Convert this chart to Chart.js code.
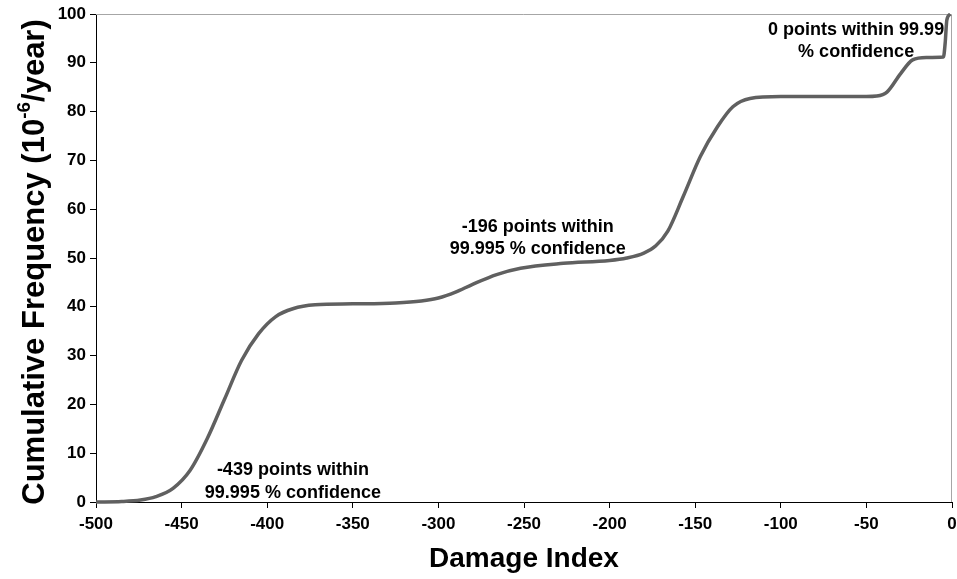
<!DOCTYPE html>
<html>
<head>
<meta charset="utf-8">
<script src="https://cdn.jsdelivr.net/npm/chart.js@4.4.1/dist/chart.umd.min.js"></script>
<style>
  html, body { margin: 0; padding: 0; background: #fff; }
  #wrap { width: 957px; height: 579px; }
</style>
</head>
<body>
<div id="wrap"><canvas id="myChart" width="957" height="579"></canvas></div>
<script>
// damage index vs cumulative frequency
var damageIndex = [-500, -485, -474, -465, -455, -445, -435, -425, -415, -405, -395, -385, -372, -350, -325, -310, -300, -290, -280, -266, -252, -227, -200, -190, -180, -173, -166, -157, -147, -137, -128, -118, -100, -75, -50, -44, -38, -30, -23, -15, -5, -4, -3, -1];
var cumFreq = [0, 0.1, 0.4, 1.1, 2.8, 6.5, 13, 21, 29, 34.5, 38, 39.6, 40.4, 40.6, 40.8, 41.2, 41.8, 43, 44.6, 46.6, 47.9, 48.9, 49.5, 50, 51, 52.5, 55.5, 62.6, 70.8, 76.9, 81, 82.7, 83.1, 83.1, 83.1, 83.2, 84, 87.8, 90.6, 91.1, 91.2, 94, 98.8, 100];

var xTickValues = [-500, -450, -400, -350, -300, -250, -200, -150, -100, -50, 0];
var yTickValues = [0, 10, 20, 30, 40, 50, 60, 70, 80, 90, 100];

// note text, anchored in data units (x centre, y of each line)
var noteLines = [
    ['-439 points within', -385, 6.6],
    ['99.995 % confidence', -385, 1.9],
    ['-196 points within', -242, 56.4],
    ['99.995 % confidence', -242, 51.8],
    ['0 points within 99.99', -56, 96.7],
    ['% confidence', -56, 92.2]
];

var FONT = '"Liberation Sans", Arial, sans-serif';

var points = damageIndex.map(function (x, i) { return { x: x, y: cumFreq[i] }; });

var extras = {
    id: 'extras',
    beforeDatasetsDraw: function (chart) {
        var a = chart.chartArea, c = chart.ctx;
        c.save();
        c.strokeStyle = '#a6a6a6';
        c.lineWidth = 1;
        c.beginPath();
        c.moveTo(a.left, a.top + 0.5);
        c.lineTo(a.right - 0.5, a.top + 0.5);
        c.lineTo(a.right - 0.5, a.bottom);
        c.stroke();
        c.restore();
    },
    afterDraw: function (chart) {
        var c = chart.ctx, xs = chart.scales.x, ys = chart.scales.y, a = chart.chartArea;
        c.save();
        c.fillStyle = '#000';
        c.textAlign = 'center';
        c.textBaseline = 'middle';
        c.font = 'bold 18px ' + FONT;
        noteLines.forEach(function (n) {
            c.fillText(n[0], xs.getPixelForValue(n[1]), ys.getPixelForValue(n[2]));
        });

        // x title
        c.font = 'bold 28px ' + FONT;
        c.fillText('Damage Index', (a.left + a.right) / 2, 559);

        // y title with superscript
        c.translate(35, 262);
        c.rotate(-Math.PI / 2);
        var big = 'bold 31px ' + FONT, small = 'bold 19px ' + FONT;
        var p1 = 'Cumulative Frequency (10', p2 = '-6', p3 = '/year)';
        c.font = big; var w1 = c.measureText(p1).width, w3 = c.measureText(p3).width;
        c.font = small; var w2 = c.measureText(p2).width;
        var x0 = -(w1 + w2 + w3) / 2;
        c.textAlign = 'left';
        c.font = big; c.fillText(p1, x0, 0);
        c.font = small; c.fillText(p2, x0 + w1, -10);
        c.font = big; c.fillText(p3, x0 + w1 + w2, 0);
        c.restore();
    }
};

var ctx = document.getElementById('myChart').getContext('2d');
var myChart = new Chart(ctx, {
    type: 'scatter',
    data: {
        datasets: [{
            data: points,
            showLine: true,
            borderColor: '#606060',
            borderWidth: 3.5,
            pointRadius: 0,
            cubicInterpolationMode: 'monotone',
            clip: false
        }]
    },
    options: {
        responsive: false,
        animation: false,
        layout: { padding: { top: 14, right: 5, left: 0, bottom: 0 } },
        plugins: { legend: { display: false }, tooltip: { enabled: false } },
        scales: {
            x: {
                type: 'linear',
                min: -500, max: 0,
                afterFit: function (s) { s.height = 77; s.paddingLeft = 0; s.paddingRight = 0; },
                afterBuildTicks: function (s) { s.ticks = xTickValues.map(function (v) { return { value: v }; }); },
                border: { color: '#000', width: 1 },
                grid: { drawOnChartArea: false, drawTicks: true, tickLength: 6, color: '#000' },
                ticks: { color: '#000', padding: 6, maxRotation: 0, font: { family: FONT, size: 17, weight: 'bold' } }
            },
            y: {
                type: 'linear',
                min: 0, max: 100,
                afterFit: function (s) { s.width = 96; s.paddingTop = 0; s.paddingBottom = 0; },
                afterBuildTicks: function (s) { s.ticks = yTickValues.map(function (v) { return { value: v }; }); },
                border: { color: '#000', width: 1 },
                grid: { drawOnChartArea: false, drawTicks: true, tickLength: 6, color: '#000' },
                ticks: { color: '#000', padding: 4, font: { family: FONT, size: 17, weight: 'bold' } }
            }
        }
    },
    plugins: [extras]
});
</script>
</body>
</html>
